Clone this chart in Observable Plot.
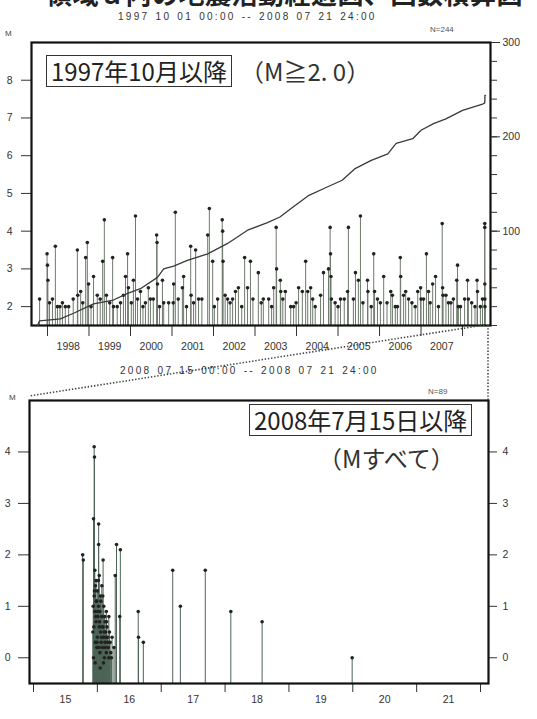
<!DOCTYPE html>
<html><head><meta charset="utf-8">
<script src="https://cdn.jsdelivr.net/npm/d3@7"></script>
<script src="https://cdn.jsdelivr.net/npm/@observablehq/plot@0.6"></script>
<style>
body{margin:0;background:#fff;}
#wrap{position:relative;width:537px;height:719px;overflow:hidden;font-family:"Liberation Sans",Arial,sans-serif;color:#222;}
.t{position:absolute;white-space:nowrap;}
.plot{position:absolute;left:0;}
.box{position:absolute;border:1.6px solid #333;font-family:"Noto Sans CJK JP";font-size:24px;line-height:30px;padding:0 4px;color:#222;white-space:nowrap;}
.note{position:absolute;font-family:"Noto Sans CJK JP";font-size:24px;line-height:30px;color:#333;white-space:nowrap;}
</style></head><body><div id="wrap"></div>
<script>
// ---- texts ----
const titleText = "領域ａ内の地震活動経過図、回数積算図";
const topPeriod = "1997 10 01 00:00 -- 2008 07 21 24:00";
const botPeriod = "2008 07 15 00:00 -- 2008 07 21 24:00";
const topN = "N=244", botN = "N=89";
const topBoxText = "1997年10月以降", topNoteText = "（M≧2. 0）";
const botBoxText = "2008年7月15日以降", botNoteText = "（Mすべて）";

// ---- tick labels ----
const yearBounds = [1998,1999,2000,2001,2002,2003,2004,2005,2006,2007,2008];
const yearLabels = [1998,1999,2000,2001,2002,2003,2004,2005,2006,2007];
const topMTicks = [2,3,4,5,6,7,8];
const countMinor = [0,20,40,60,80,100,120,140,160,180,200,220,240,260,280,300];
const countTicks = [100,200,300];
const dayBounds = [15,16,17,18,19,20,21,22];
const dayLabels = [15,16,17,18,19,20,21];
const botMTicks = [0,1,2,3,4];

// ---- top panel events (decimal year, magnitude) ----
const topTime = [
1997.81,1997.99,1998.00,1998.01,1998.12,1998.19,1998.24,1998.36,1998.43,1998.51,
1998.72,1998.73,1998.80,1998.92,1998.96,1998.99,1999.11,1999.20,1999.33,1999.37,
1999.42,1999.57,1999.59,1999.76,1999.88,1999.93,1999.95,2000.07,2000.12,2000.17,
2000.24,2000.36,2000.43,2000.55,2000.63,2000.64,2000.65,2000.77,2000.80,2001.03,
2001.04,2001.08,2001.25,2001.28,2001.45,2001.46,2001.57,2001.64,2001.86,2001.90,
2001.98,2002.10,2002.21,2002.22,2002.23,2002.34,2002.46,2002.53,2002.60,2002.75,
2002.82,2002.89,2003.08,2003.20,2003.33,2003.45,2003.51,2003.52,2003.61,2003.62,
2003.73,2003.86,2003.93,2004.05,2004.14,2004.22,2004.27,2004.34,2004.39,2004.65,
2004.77,2004.81,2004.82,2004.83,2004.84,2005.06,2005.23,2005.25,2005.37,2005.42,
2005.49,2005.54,2005.71,2005.72,2005.86,2005.88,2006.02,2006.10,2006.27,2006.31,
2006.43,2006.50,2006.51,2006.63,2006.70,2006.92,2006.99,2007.06,2007.13,2007.18,
2007.28,2007.35,2007.51,2007.52,2007.53,2007.66,2007.78,2007.86,2007.88,2007.90,
2008.12,2008.14,2008.35,2008.36,2008.43,2008.535,2008.536,2008.537,2008.538,2008.54,
1998.05,1998.30,1998.62,1998.85,1999.05,1999.27,1999.50,1999.68,1999.83,2000.02,
2000.30,2000.48,2000.70,2000.92,2001.15,2001.35,2001.52,2001.72,2002.02,2002.28,
2002.40,2002.68,2002.95,2003.15,2003.40,2003.67,2003.99,2004.45,2004.58,2004.93,
2005.00,2005.15,2005.60,2005.80,2005.95,2006.18,2006.38,2006.58,2006.78,2006.86,
2007.00,2007.22,2007.42,2007.60,2007.72,2007.95,2008.05,2008.22,2008.30,2008.48
];
const topMag = [
2.2,3.4,3.1,2.7,2.2,3.6,2.0,2.1,2.0,2.0,
3.5,2.3,2.4,3.3,3.7,2.6,2.8,2.3,3.2,4.3,
2.3,3.3,2.0,2.1,2.8,3.4,2.5,2.7,4.4,2.2,
2.4,2.1,2.5,2.2,3.9,3.7,2.6,2.7,2.1,2.1,
2.6,4.5,2.5,2.8,3.6,2.3,3.5,2.2,3.9,4.6,
3.2,2.2,4.3,4.0,3.2,2.2,2.2,2.4,2.5,3.3,
2.5,3.2,2.9,2.2,2.2,2.5,4.1,3.0,2.7,2.4,
2.4,2.0,2.0,2.5,2.4,3.2,2.4,2.5,2.2,2.9,
3.0,4.1,3.4,2.8,2.2,2.2,2.4,4.1,2.2,2.9,
2.7,4.4,2.7,2.4,3.4,2.4,2.1,2.8,2.4,2.3,
2.0,3.3,2.8,2.4,2.2,2.4,2.5,2.2,3.4,2.4,
2.6,2.8,4.2,2.5,2.3,2.1,2.2,2.7,3.1,2.0,
2.7,2.2,2.7,2.4,2.0,4.2,4.1,2.6,2.2,2.0,
2.1,2.0,2.2,2.1,2.0,2.2,2.1,2.0,2.3,2.1,
2.0,2.2,2.0,2.1,2.2,2.0,2.1,2.2,2.0,2.3,
2.1,2.0,2.2,2.1,2.0,2.2,2.1,2.0,2.3,2.1,
2.0,2.2,2.1,2.0,2.2,2.1,2.0,2.3,2.1,2.0,
2.2,2.1,2.0,2.3,2.1,2.0,2.2,2.1,2.0,2.2
];

// ---- cumulative count readings (decimal year, count) ----
const cumTime = [1997.76,1997.81,1998.31,1998.63,1999.11,1999.59,1999.93,2000.24,2000.65,2000.80,
2001.04,2001.37,2001.86,2002.34,2002.82,2003.30,2003.60,2003.90,2004.30,2004.70,2005.10,2005.40,
2005.80,2006.20,2006.40,2006.80,2007.00,2007.30,2007.60,2008.00,2008.50,2008.535,2008.54,2008.553];
const cumCount = [0,5,7,13,23,27,34,39,51,60,
63,69,76,87,101,109,115,125,138,146,154,166,
175,182,193,198,207,214,219,228,235,236,244,244];

// ---- bottom panel events (day of July 2008, magnitude) ----
const botTime = [
15.77,15.78,15.95,15.955,15.94,15.96,15.94,15.93,15.95,15.96,
15.97,15.97,15.98,15.98,15.99,15.99,16.00,16.00,16.01,16.02,
16.02,16.02,16.03,16.03,16.04,16.04,16.05,16.05,16.06,16.07,
16.07,16.08,16.09,16.09,16.10,16.10,16.11,16.12,16.12,16.13,
16.14,16.14,16.15,16.16,16.17,16.18,16.18,16.19,16.20,16.21,
16.23,16.26,16.28,16.30,16.35,16.36,
15.935,15.945,15.955,15.965,15.975,15.985,15.995,16.005,16.015,16.025,
16.035,16.045,16.055,16.065,16.075,16.085,16.095,16.105,16.115,16.125,
16.135,16.145,16.165,16.22,
16.64,16.645,16.72,17.18,17.30,17.69,18.09,18.58,19.99
];
const botMag = [
2.0,1.9,4.1,3.9,2.7,1.7,0.0,0.5,1.2,0.9,
1.4,0.3,1.5,0.7,1.1,0.2,1.3,0.4,0.8,2.6,
2.2,1.0,0.6,1.6,0.1,0.9,1.2,0.5,0.3,0.8,
1.4,0.2,1.9,0.6,1.0,0.4,0.0,0.7,0.3,0.5,
0.9,0.1,0.6,0.4,0.2,0.8,0.0,0.5,0.3,0.1,
0.4,0.2,1.6,2.2,0.8,2.1,
1.0,0.6,1.3,-0.1,0.8,1.1,0.3,0.9,1.5,0.2,
0.7,-0.2,1.1,0.4,0.6,1.2,-0.1,0.5,0.8,0.2,
0.4,0.7,0.3,0.0,
0.9,0.4,0.3,1.7,1.0,1.7,0.9,0.7,0.0
];

// ---- build tables ----
const topEvents = topTime.map((t,i)=>({t, m: topMag[i]}));
const cum = cumTime.map((t,i)=>({t, n: cumCount[i]}));
const botEvents = botTime.map((t,i)=>({t, m: botMag[i]}));

const wrap = document.getElementById("wrap");
function addText(cls, txt, css){ const d=document.createElement("div"); d.className=cls; d.textContent=txt; Object.assign(d.style, css); wrap.appendChild(d); return d; }

const baseStyle = {fontFamily:"Liberation Sans, Arial, sans-serif", fontSize:"10.5px", color:"#333", background:"transparent", overflow:"visible"};
const intFmt = d => String(Math.round(d));
const blank = () => "";

// ---- top panel (magnitude) ----
const topDims = {width:537, height:370, marginTop:42, marginBottom:45, marginLeft:31, marginRight:47};
const topX = {type:"linear", domain:[1997.75, 2008.553], range:[36.6, 485]};
const topPlot = Plot.plot({
  ...topDims, style: baseStyle,
  x: topX,
  y: {domain:[1.5, 9]},
  marks: [
    Plot.ruleX(topEvents, {x:"t", y1:1.5, y2:"m", stroke:"#6e7a6c", strokeWidth:1}),
    Plot.dot(topEvents, {x:"t", y:"m", r:1.8, fill:"#222", stroke:"none"}),
    Plot.axisY(topMTicks, {anchor:"left", tickSize:10, tickPadding:9, tickFormat:intFmt, label:null, stroke:"#333"}),
    Plot.axisX(yearBounds, {anchor:"bottom", tickSize:11, tickFormat:blank, label:null, stroke:"#333"}),
    Plot.axisX(yearLabels.map(y=>y+0.5), {anchor:"bottom", tickSize:0, tickPadding:17, tickFormat:d=>String(Math.floor(d)), label:null}),
    Plot.frame({stroke:"#111", strokeWidth:2.2})
  ]
});
topPlot.classList.add("plot"); topPlot.style.top="0px";
wrap.appendChild(topPlot);

// ---- top panel (cumulative count, right axis) ----
const cumPlot = Plot.plot({
  ...topDims, style: baseStyle,
  x: {...topX, axis:null},
  y: {domain:[0, 300], axis:null},
  marks: [
    Plot.line(cum, {x:"t", y:"n", stroke:"#3a3a3a", strokeWidth:1.3}),
    Plot.axisY(countMinor, {anchor:"right", tickSize:6, tickFormat:blank, label:null, stroke:"#333"}),
    Plot.axisY(countTicks, {anchor:"right", tickSize:9, tickPadding:3, tickFormat:intFmt, label:null, stroke:"#333"})
  ]
});
cumPlot.classList.add("plot"); cumPlot.style.top="0px";
wrap.appendChild(cumPlot);

// ---- bottom panel ----
const botTop = 360;
const botPlot = Plot.plot({
  width:537, height:359, marginTop:40, marginBottom:36, marginLeft:29, marginRight:49,
  style: baseStyle,
  x: {type:"linear", domain:[15, 22], range:[33, 480]},
  y: {domain:[-0.5, 5]},
  marks: [
    Plot.ruleX(botEvents, {x:"t", y1:-0.5, y2:"m", stroke:"#4d6456", strokeWidth:1}),
    Plot.dot(botEvents, {x:"t", y:"m", r:1.8, fill:"#222", stroke:"none"}),
    Plot.axisY(botMTicks, {anchor:"left", tickSize:11, tickPadding:8, tickFormat:intFmt, label:null, stroke:"#333"}),
    Plot.axisY(botMTicks, {anchor:"right", tickSize:8, tickPadding:6, tickFormat:intFmt, label:null, stroke:"#333"}),
    Plot.axisX(dayBounds, {anchor:"bottom", tickSize:9, tickFormat:blank, label:null, stroke:"#333"}),
    Plot.axisX(dayLabels.map(d=>d+0.5), {anchor:"bottom", tickSize:0, tickPadding:12, tickFormat:d=>String(Math.floor(d)), label:null}),
    Plot.frame({stroke:"#111", strokeWidth:2.2})
  ]
});
botPlot.classList.add("plot"); botPlot.style.top = botTop+"px";
wrap.appendChild(botPlot);

// ---- dotted connectors (from top scale to bottom frame) ----
const xs = topPlot.scale("x");
const startYear = 2008 + d3.timeDay.count(new Date(2008,0,1), new Date(2008,6,dayBounds[0]))/366;
const x0 = xs.apply(startYear);
const yBase = topDims.height - topDims.marginBottom;
const svg = d3.select(wrap).append("svg").attr("width",537).attr("height",719)
  .style("position","absolute").style("left","0px").style("top","0px").style("pointer-events","none");
svg.append("line").attr("x1",x0).attr("y1",yBase).attr("x2",29).attr("y2",botTop+36)
  .attr("stroke","#444").attr("stroke-width",1.6).attr("stroke-dasharray","1.4,1.8");
svg.append("line").attr("x1",537-49).attr("y1",yBase).attr("x2",537-49).attr("y2",botTop+40)
  .attr("stroke","#444").attr("stroke-width",1.6).attr("stroke-dasharray","1.4,1.8");

// ---- texts ----
addText("t", titleText, {left:"46px", top:"-26px", fontFamily:"Noto Sans CJK JP", fontSize:"26px", fontWeight:"700", letterSpacing:"0.5px", color:"#222"});
addText("t", topPeriod, {left:"118px", top:"11px", fontSize:"10px", letterSpacing:"2.3px", wordSpacing:"1px", color:"#333"});
addText("t", topN, {left:"430px", top:"25px", fontSize:"8px", color:"#555"});
addText("t", "M", {left:"5px", top:"29px", fontSize:"8px", color:"#444"});
addText("t", botPeriod, {left:"120px", top:"365px", fontSize:"10px", letterSpacing:"2.3px", wordSpacing:"1px", color:"#333"});
addText("t", botN, {left:"428px", top:"387px", fontSize:"8px", color:"#555"});
addText("t", "M", {left:"9px", top:"393px", fontSize:"8px", color:"#444"});
addText("box", topBoxText, {left:"46px", top:"55px"});
addText("note", topNoteText, {left:"240px", top:"56px"});
addText("box", botBoxText, {left:"249px", top:"404px"});
addText("note", botNoteText, {left:"318px", top:"443px"});
</script></body></html>
